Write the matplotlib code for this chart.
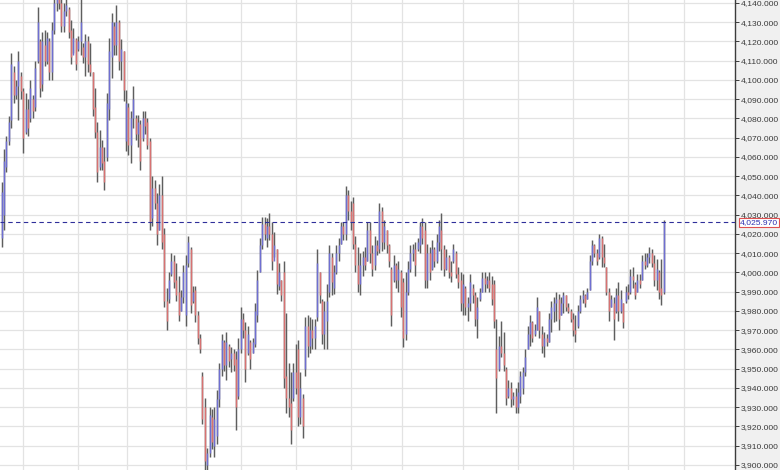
import matplotlib
matplotlib.use("Agg")
import matplotlib.pyplot as plt
import matplotlib.transforms as mtransforms
import numpy as np

# --- daily bars (oldest -> newest) ---
highs = [
    4047, 4064, 4071, 4081, 4114, 4107, 4100, 4115, 4104, 4096,
    4093, 4090, 4100, 4092, 4110, 4138, 4121, 4125, 4126, 4125,
    4122, 4130, 4143, 4146, 4147, 4142, 4140, 4144, 4138, 4131,
    4127, 4122, 4123, 4142, 4119, 4124, 4123, 4119, 4104, 4096,
    4078, 4074, 4069, 4065, 4093, 4122, 4135, 4130, 4139, 4131,
    4121, 4115, 4095, 4088, 4084, 4097, 4082, 4082, 4079, 4084,
    4084, 4080, 4070, 4050, 4048, 4041, 4046, 4050, 4023, 3992,
    4000, 4010, 4009, 4005, 3998, 3991, 4004, 4009, 4019, 4013,
    3993, 3993, 3980, 3968, 3948, 3935, 3909, 3930, 3929, 3930,
    3939, 3953, 3968, 3965, 3969, 3963, 3961, 3960, 3959, 3966,
    3982, 3979, 3974, 3972, 3965, 3966, 3984, 4001, 4018, 4029,
    4029, 4028, 4031, 4026, 4021, 4012, 4005, 3996, 4006, 3979,
    3953, 3948, 3953, 3963, 3965, 3948, 3937, 3977, 3978, 3977,
    3976, 3976, 4012, 4000, 3986, 3985, 3994, 4014, 4010, 4004,
    4014, 4018, 4026, 4026, 4045, 4043, 4037, 4039, 4019, 4013,
    4010, 4011, 4013, 4026, 4026, 4014, 4019, 4017, 4036, 4034,
    4027, 4022, 4015, 4003, 4009, 4005, 4006, 4001, 3997, 4000,
    4006, 4014, 4015, 4016, 4018, 4026, 4028, 4026, 4015, 4013,
    4017, 4013, 4020, 4027, 4031, 4014, 4012, 4009, 4006, 4015,
    4011, 4003, 4000, 3999, 3993, 3987, 3999, 3994, 3990, 3987,
    3992, 4000, 4000, 3998, 4000, 3998, 3996, 3976, 3967, 3975,
    3969, 3951, 3944, 3943, 3938, 3940, 3943, 3949, 3951, 3960,
    3972, 3978, 3975, 3973, 3987, 3980, 3972, 3969, 3968, 3979,
    3985, 3987, 3990, 3989, 3987, 3990, 3988, 3984, 3981, 3979,
    3978, 3983, 3988, 3991, 3989, 3992, 4009, 4017, 4015, 4012,
    4020, 4019, 4015, 4003, 3992, 3988, 3987, 3992, 3995, 3991,
    3984, 3993, 3994, 4002, 4003, 3995, 3999, 3999, 4009, 4010,
    4010, 4013, 4012, 4009, 4007, 4001, 4007, 4027,
]
lows = [
    4013, 4022, 4052, 4066, 4075, 4088, 4090, 4079, 4090, 4062,
    4072, 4071, 4078, 4080, 4084, 4109, 4091, 4094, 4107, 4108,
    4100, 4100, 4124, 4136, 4137, 4125, 4125, 4133, 4122, 4108,
    4114, 4105, 4115, 4113, 4109, 4102, 4104, 4102, 4081, 4070,
    4047, 4053, 4053, 4043, 4058, 4079, 4101, 4113, 4113, 4105,
    4100, 4089, 4063, 4061, 4057, 4075, 4069, 4065, 4053, 4068,
    4072, 4064, 4022, 4024, 4033, 4014, 4022, 4012, 3982, 3970,
    3984, 3998, 3992, 3985, 3975, 3980, 3984, 3972, 4003, 3979,
    3984, 3974, 3963, 3958, 3921, 3897, 3897, 3904, 3908, 3904,
    3911, 3930, 3946, 3949, 3944, 3951, 3948, 3949, 3918, 3934,
    3958, 3966, 3943, 3957, 3950, 3958, 3961, 3974, 4000, 4012,
    4017, 4013, 4017, 4001, 4008, 3989, 3991, 3985, 3940, 3927,
    3925, 3911, 3933, 3937, 3920, 3921, 3914, 3946, 3956, 3958,
    3960, 3960, 3975, 3984, 3963, 3960, 3960, 3987, 3988, 3989,
    3999, 4006, 4015, 4017, 4017, 4027, 4022, 4012, 4000, 3990,
    3988, 3998, 4001, 4006, 4005, 3998, 4001, 4009, 4010, 4011,
    4012, 4010, 4003, 3972, 3995, 3992, 3990, 3977, 3961, 3965,
    3988, 4000, 4006, 3998, 4011, 4010, 4015, 3992, 3992, 3996,
    4001, 4003, 4005, 4011, 4001, 3998, 4001, 3997, 3995, 4005,
    3997, 3992, 3980, 3978, 3978, 3975, 3980, 3984, 3972, 3966,
    3985, 3990, 3990, 3992, 3990, 3983, 3971, 3927, 3949, 3956,
    3949, 3931, 3935, 3930, 3931, 3927, 3927, 3932, 3937, 3946,
    3960, 3962, 3964, 3967, 3970, 3966, 3958, 3956, 3962, 3964,
    3969, 3974, 3975, 3970, 3978, 3979, 3980, 3979, 3974, 3967,
    3964, 3971, 3979, 3984, 3982, 3986, 3991, 4004, 4008, 4004,
    4007, 4003, 4003, 3988, 3975, 3982, 3965, 3979, 3975, 3979,
    3971, 3984, 3986, 3989, 3992, 3986, 3990, 3992, 3996, 4002,
    4003, 4005, 4003, 3993, 3991, 3986, 3983, 3989,
]
opens = [
    4018, 4030, 4055, 4068, 4079, 4104, 4092, 4097, 4102, 4094,
    4073, 4085, 4080, 4090, 4086, 4110, 4120, 4098, 4118, 4110,
    4120, 4104, 4126, 4140, 4142, 4140, 4128, 4136, 4137, 4126,
    4113, 4121, 4116, 4120, 4117, 4112, 4120, 4108, 4104, 4086,
    4073, 4055, 4065, 4058, 4060, 4085, 4112, 4128, 4118, 4130,
    4110, 4115, 4068, 4086, 4066, 4080, 4080, 4072, 4077, 4070,
    4080, 4078, 4068, 4028, 4044, 4036, 4022, 4040, 4020, 3985,
    3986, 3999, 4006, 3996, 3990, 3980, 3987, 3978, 4005, 4012,
    3985, 3991, 3978, 3966, 3946, 3930, 3900, 3906, 3925, 3910,
    3915, 3934, 3950, 3964, 3952, 3962, 3955, 3958, 3955, 3936,
    3960, 3976, 3970, 3958, 3964, 3958, 3963, 3978, 4000, 4014,
    4025, 4018, 4024, 4020, 4006, 4012, 3993, 3996, 4000, 3946,
    3935, 3932, 3935, 3948, 3960, 3925, 3935, 3950, 3972, 3962,
    3970, 3966, 3977, 4000, 3985, 3968, 3975, 3990, 4008, 3992,
    4000, 4010, 4015, 4024, 4020, 4040, 4032, 4036, 4015, 4004,
    3994, 4004, 4008, 4006, 4022, 4010, 4004, 4014, 4012, 4032,
    4016, 4022, 4014, 4002, 3996, 4004, 3996, 4000, 3995, 3968,
    3990, 4002, 4010, 4012, 4012, 4014, 4024, 4022, 3996, 4010,
    4002, 4012, 4006, 4016, 4022, 4012, 4002, 4008, 4000, 4006,
    4010, 3999, 3996, 3984, 3992, 3982, 3984, 3992, 3988, 3976,
    3986, 3990, 3997, 3994, 3996, 3994, 3994, 3960, 3950, 3962,
    3958, 3950, 3936, 3940, 3934, 3936, 3930, 3936, 3940, 3948,
    3960, 3968, 3974, 3968, 3970, 3980, 3968, 3962, 3966, 3964,
    3976, 3980, 3984, 3986, 3978, 3984, 3988, 3982, 3980, 3976,
    3970, 3972, 3980, 3986, 3988, 3986, 3991, 4006, 4014, 4010,
    4008, 4018, 4008, 4003, 3990, 3982, 3984, 3980, 3988, 3980,
    3984, 3985, 3990, 3990, 3998, 3994, 3990, 3996, 3996, 4006,
    4004, 4008, 4010, 4005, 3996, 4000, 3992, 3990,
]
closes = [
    4042, 4058, 4068, 4078, 4108, 4092, 4097, 4110, 4094, 4070,
    4085, 4075, 4096, 4084, 4106, 4130, 4096, 4120, 4110, 4122,
    4104, 4126, 4140, 4142, 4140, 4128, 4136, 4139, 4125, 4112,
    4122, 4108, 4120, 4130, 4112, 4120, 4108, 4104, 4085, 4073,
    4052, 4065, 4057, 4047, 4088, 4115, 4130, 4118, 4130, 4110,
    4116, 4095, 4088, 4066, 4080, 4090, 4072, 4078, 4058, 4080,
    4076, 4066, 4026, 4044, 4036, 4020, 4040, 4016, 3985, 3975,
    3996, 4006, 3995, 3988, 3978, 3987, 4000, 4004, 4016, 3983,
    3990, 3978, 3966, 3960, 3924, 3902, 3906, 3926, 3912, 3924,
    3934, 3950, 3965, 3952, 3964, 3954, 3958, 3952, 3930, 3960,
    3976, 3970, 3950, 3968, 3955, 3964, 3980, 3996, 4014, 4025,
    4020, 4024, 4020, 4006, 4014, 3994, 4000, 3988, 3945, 3935,
    3930, 3918, 3948, 3940, 3925, 3940, 3920, 3972, 3962, 3970,
    3966, 3972, 4005, 3988, 3968, 3980, 3985, 4010, 3995, 4000,
    4010, 4014, 4024, 4020, 4040, 4032, 4026, 4015, 4004, 3994,
    4004, 4008, 4004, 4022, 4010, 4002, 4014, 4011, 4032, 4016,
    4024, 4014, 4006, 3978, 4004, 3996, 4002, 3982, 3966, 3990,
    4002, 4010, 4012, 4004, 4016, 4024, 4018, 3996, 4010, 4000,
    4012, 4006, 4016, 4024, 4012, 4002, 4008, 4000, 3998, 4012,
    3999, 3995, 3984, 3994, 3982, 3984, 3995, 3988, 3976, 3982,
    3990, 3997, 3994, 3996, 3992, 3986, 3975, 3945, 3962, 3958,
    3952, 3935, 3940, 3934, 3936, 3930, 3938, 3946, 3948, 3956,
    3968, 3974, 3966, 3970, 3982, 3970, 3962, 3966, 3964, 3976,
    3982, 3984, 3986, 3976, 3984, 3988, 3982, 3980, 3976, 3970,
    3968, 3980, 3986, 3988, 3984, 3990, 4006, 4014, 4010, 4006,
    4018, 4008, 4005, 3990, 3980, 3986, 3976, 3988, 3980, 3986,
    3974, 3990, 3988, 3998, 3996, 3988, 3996, 3994, 4006, 4004,
    4008, 4010, 4005, 3996, 4002, 3990, 3988, 4025.97,
]
last_price = 4025.97

# bar index where each month starts (vertical grid)
month_starts = [9, 32, 52.5, 77, 100, 123, 146, 167.5, 193, 216, 239, 262, 285.5]
y_ticks = list(range(3900, 4141, 10))

hi, lo = np.array(highs), np.array(lows)
op, cl = np.array(opens), np.array(closes)
x = np.arange(len(hi))
up = cl >= op

fig = plt.figure(figsize=(7.8, 4.7), dpi=100, facecolor="#f0f0f0")
ax = fig.add_axes([0, 0, 735 / 780, 1])
ax.set_facecolor("white")

ax.set_xlim(-0.7, 306.8)
ax.set_ylim(3897.35, 4141.5)

# grid
for m in month_starts:
    ax.axvline(m, color="#e3e3e3", lw=0.9, zorder=0)
for t in y_ticks:
    ax.axhline(t, color="#e3e3e3", lw=0.9, zorder=0)

# high-low wicks, then coloured open-close part
ax.vlines(x, lo, hi, color="#5e5e5e", lw=1.05, zorder=2)
body_lo = np.minimum(op, cl)
body_hi = np.maximum(op, cl)
ax.vlines(x[up], body_lo[up], body_hi[up], color="#6f6fd2", lw=1.05, zorder=3)
ax.vlines(x[~up], body_lo[~up], body_hi[~up], color="#d87272", lw=1.05, zorder=3)

# last price line
ax.axhline(last_price, color="#2f2f9a", lw=0.8, ls=(0, (4, 3)), zorder=4)

# right price axis
for s in ["left", "top", "bottom"]:
    ax.spines[s].set_visible(False)
ax.spines["right"].set_color("#3c3c3c")
ax.spines["right"].set_linewidth(1.0)
ax.yaxis.tick_right()
ax.set_yticks(y_ticks)
ax.set_yticklabels([f"{t:,.3f}" for t in y_ticks])
ax.tick_params(axis="y", direction="out", length=3, width=0.7, color="#3c3c3c",
               pad=1, labelsize=6.1, labelcolor="#3a3a3a")
for lab in ax.get_yticklabels():
    lab.set_family("Liberation Sans")
ax.set_xticks([])

trans = mtransforms.blended_transform_factory(ax.transAxes, ax.transData)
ax.text(1.007, last_price, f"{last_price:,.3f}", transform=trans, ha="left", va="center",
        fontsize=6.1, family="Liberation Sans", color="#2f2fb0", zorder=6, clip_on=False,
        bbox=dict(boxstyle="square,pad=0.08", fc="white", ec="#e05050", lw=0.8))

fig.savefig("out.png", dpi=100, facecolor=fig.get_facecolor())
